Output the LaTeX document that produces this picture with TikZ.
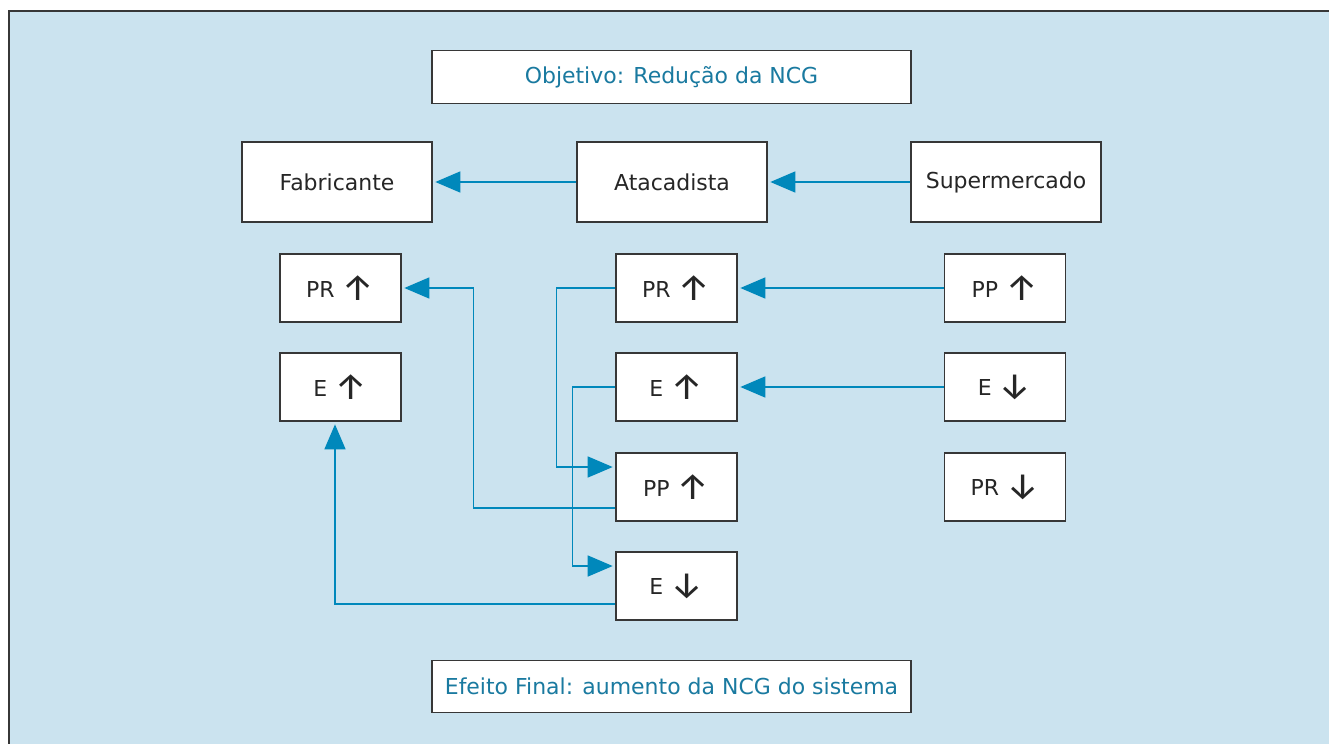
\documentclass[tikz,border=0pt]{standalone}
\usepackage{fontspec}
\setmainfont{DejaVu Sans}
\newfontfamily\arrowfont{Fira Sans}
\usetikzlibrary{arrows.meta,positioning}
\usepackage{xcolor}

\definecolor{panelblue}{RGB}{203,227,239}
\definecolor{linkblue}{RGB}{0,136,187}
\definecolor{titleblue}{RGB}{26,122,160}
\definecolor{boxline}{RGB}{55,55,55}

\newcommand{\arrowup}{\raisebox{-1.5pt}{\arrowfont\fontsize{21}{15}\selectfont ↑}}
\newcommand{\arrowdn}{\raisebox{-1.5pt}{\arrowfont\fontsize{21}{15}\selectfont ↓}}

\begin{document}
\begin{tikzpicture}[x=0.02cm, y=-0.02cm,
  every node/.style={font=\fontsize{12.5}{15}\selectfont, text=black!85},
  box/.style={draw=boxline, line width=0.8pt, fill=white, inner sep=0pt},
  agent/.style={box, minimum width=3.8cm, minimum height=1.6cm},
  item/.style={box, minimum width=2.42cm, minimum height=1.36cm},
  banner/.style={box, minimum width=9.58cm, minimum height=1.05cm, text=titleblue},
  link/.style={draw=linkblue, line width=0.85pt,
    -{Triangle[length=0.5cm,width=0.42cm]}, shorten >=1.5pt}]
  \useasboundingbox (0,0) rectangle (1329,744);
  % panel
  \fill[panelblue] (9,11) rectangle (1329,744);
  \draw[boxline, line width=1.2pt] (1329,11) -- (9,11) -- (9,744);

  % goal and chain
  \node[banner] (goal) at (671.5,77) {Objetivo: Redução da NCG};
  \node[agent] (fabr) at (337,182) {Fabricante};
  \node[agent] (atac) at (672,182) {Atacadista};
  \node[agent] (superm) at (1006,182) {Supermercado};

  % left column: Fabricante
  \node[item] (lPR) at (340.5,288) {PR \arrowup};
  \node[item] (lE) at (340.5,387) {E \arrowup};
  % middle column: Atacadista
  \node[item] (mPR) at (676.5,288) {PR \arrowup};
  \node[item] (mE) at (676.5,387) {E \arrowup};
  \node[item] (mPP) at (676.5,487) {PP \arrowup};
  \node[item] (mEd) at (676.5,586) {E \arrowdn};
  % right column: Supermercado
  \node[item] (rPP) at (1005,288) {PP \arrowup};
  \node[item] (rE) at (1005,387) {E \arrowdn};
  \node[item] (rPR) at (1005,487) {PR \arrowdn};

  \node[banner] (final) at (671.5,686.5) {Efeito Final: aumento da NCG do sistema};

  % connectors
  \draw[link] (atac.west) -- (fabr.east);
  \draw[link] (superm.west) -- (atac.east);
  \draw[link] (rPP.west) -- (mPR.east);
  \draw[link] (rE.west) -- (mE.east);
  \draw[link] (mPR.west) -- ++(-59,0) |- ([yshift=0.4cm]mPP.west);
  \draw[link] (mE.west) -- ++(-43,0) |- ([yshift=0.4cm]mEd.west);
  \draw[link] ([yshift=-0.42cm]mPP.west) -- ++(-142,0) |- (lPR.east);
  \draw[link] ([yshift=-0.36cm]mEd.west) -| ([xshift=-0.11cm]lE.south);
\end{tikzpicture}
\end{document}
